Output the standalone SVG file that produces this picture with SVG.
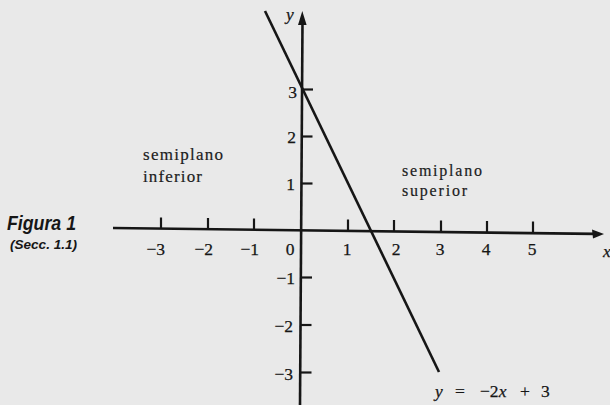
<svg xmlns="http://www.w3.org/2000/svg" width="610" height="405" viewBox="0 0 610 405">
<style>
.ax{stroke:#161616;stroke-width:2.6;fill:none;stroke-linecap:butt}
.tk{stroke:#161616;stroke-width:2.2;fill:none}
.num{font-family:"Liberation Serif","Times New Roman",serif;font-size:17.5px;fill:#161616;stroke:#161616;stroke-width:0.25}
.lbl{font-family:"Liberation Serif","Times New Roman",serif;font-size:17px;fill:#1c1c1c;stroke:#1c1c1c;stroke-width:0.2}
.it{font-style:italic}
.fig{font-family:"Liberation Sans",Arial,sans-serif;font-weight:bold;font-style:italic;fill:#161616}
</style>
<rect x="0" y="0" width="610" height="405" fill="#e9e9e9"/>
<g id="caption">
<text class="fig" x="7" y="230" font-size="20" textLength="69" lengthAdjust="spacingAndGlyphs">Figura 1</text>
<text class="fig" x="10" y="249" font-size="12" textLength="67" lengthAdjust="spacingAndGlyphs">(Secc. 1.1)</text>
</g>
<g id="x-axis">
<line class="ax" x1="113" y1="228" x2="595" y2="233.9"/>
<polygon points="604,234 592,229.5 593,238.5" fill="#161616"/>
<g id="x-ticks">
<line class="tk" x1="161" y1="228.6" x2="161" y2="217.5"/>
<line class="tk" x1="208" y1="229.2" x2="208" y2="218"/>
<line class="tk" x1="254" y1="229.7" x2="254" y2="218.5"/>
<line class="tk" x1="348" y1="230.9" x2="348" y2="219.5"/>
<line class="tk" x1="394" y1="231.4" x2="394" y2="220"/>
<line class="tk" x1="441" y1="232" x2="441" y2="220.5"/>
<line class="tk" x1="487" y1="232.6" x2="487" y2="221"/>
<line class="tk" x1="533" y1="233.1" x2="533" y2="221.5"/>
</g>
<g id="x-labels" class="num">
<text x="165" y="255" text-anchor="end">−3</text>
<text x="213" y="255" text-anchor="end">−2</text>
<text x="259" y="255" text-anchor="end">−1</text>
<text x="290" y="255" text-anchor="middle">0</text>
<text x="347" y="255" text-anchor="middle">1</text>
<text x="396" y="255" text-anchor="middle">2</text>
<text x="440" y="255" text-anchor="middle">3</text>
<text x="486" y="255" text-anchor="middle">4</text>
<text x="532" y="255" text-anchor="middle">5</text>
<text class="it" x="603" y="257">x</text>
</g>
</g>
<g id="y-axis">
<line class="ax" x1="302.5" y1="22" x2="300" y2="405"/>
<polygon points="302.3,11 298,25 306.6,25" fill="#161616"/>
<g id="y-ticks">
<line class="tk" x1="302" y1="89.5" x2="313" y2="89.5"/>
<line class="tk" x1="301.7" y1="136.5" x2="312.5" y2="136.5"/>
<line class="tk" x1="301.4" y1="183.5" x2="312.5" y2="183.5"/>
<line class="tk" x1="300.8" y1="277.5" x2="312" y2="277.5"/>
<line class="tk" x1="300.5" y1="325" x2="311.5" y2="325"/>
<line class="tk" x1="300.2" y1="372.5" x2="311.5" y2="372.5"/>
</g>
<g id="y-labels" class="num">
<text x="297" y="98" text-anchor="end">3</text>
<text x="296" y="143" text-anchor="end">2</text>
<text x="295" y="190" text-anchor="end">1</text>
<text x="295" y="284" text-anchor="end">−1</text>
<text x="293" y="332" text-anchor="end">−2</text>
<text x="293" y="380" text-anchor="end">−3</text>
<text class="it" x="286" y="20">y</text>
</g>
</g>
<g id="line">
<line class="ax" x1="265" y1="11" x2="439" y2="372"/>
</g>
<g id="equation" class="num">
<text class="it" x="435" y="397">y</text>
<text x="455" y="397">=</text>
<text x="480" y="397">−2<tspan class="it">x</tspan></text>
<text x="520" y="397">+</text>
<text x="541" y="397">3</text>
</g>
<g id="region-inferior" class="lbl">
<text x="143" y="160" textLength="80" lengthAdjust="spacing">semiplano</text>
<text x="143" y="182" textLength="59" lengthAdjust="spacing">inferior</text>
</g>
<g id="region-superior" class="lbl">
<text x="402" y="176" font-size="16" textLength="80" lengthAdjust="spacing">semiplano</text>
<text x="402" y="196" font-size="16" textLength="65" lengthAdjust="spacing">superior</text>
</g>
</svg>
